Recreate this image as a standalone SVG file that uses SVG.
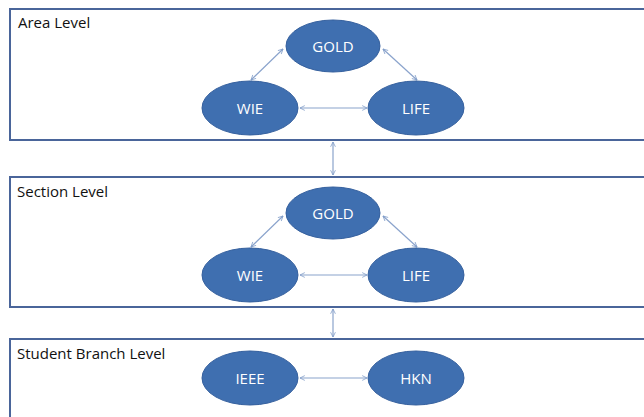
<svg xmlns="http://www.w3.org/2000/svg" width="644" height="417" viewBox="0 0 644 417">
<defs>
<marker id="ah" viewBox="0 0 10 10" refX="9" refY="5" markerWidth="6" markerHeight="6" orient="auto-start-reverse" markerUnits="userSpaceOnUse">
<path d="M1,1 L9,5 L1,9" fill="none" stroke="#7f9cc8" stroke-width="1.3"/>
</marker>
<style>
.box{fill:#ffffff;stroke:#4a659a;stroke-width:2}
.lvl{font-family:"Open Sans","Liberation Sans",sans-serif;font-size:15px;fill:#111111}
.node ellipse{fill:#3f6fb0;stroke:#35609e;stroke-width:1}
.node text{font-family:"Open Sans","Liberation Sans",sans-serif;font-size:15px;fill:#ffffff;text-anchor:middle;dominant-baseline:central}
.conn line{stroke:#8aa3cc;stroke-width:1.2;marker-start:url(#ah);marker-end:url(#ah)}
</style>
</defs>
<rect width="644" height="417" fill="#ffffff"/>
<g id="area-level">
<rect class="box" x="10" y="9" width="640" height="131"/>
<text class="lvl" x="18" y="28">Area Level</text>
</g>
<g id="section-level">
<rect class="box" x="10" y="177" width="640" height="130"/>
<text class="lvl" x="17" y="197">Section Level</text>
</g>
<g id="student-branch-level">
<rect class="box" x="10" y="339" width="640" height="90"/>
<text class="lvl" x="17" y="359">Student Branch Level</text>
</g>
<g class="conn" id="connectors">
<line x1="283" y1="49" x2="251" y2="80"/>
<line x1="383" y1="49" x2="417" y2="80"/>
<line x1="300" y1="108" x2="367" y2="108"/>
<line x1="283" y1="216" x2="251" y2="247"/>
<line x1="383" y1="216" x2="417" y2="247"/>
<line x1="300" y1="275" x2="367" y2="275"/>
<line x1="300" y1="378" x2="367" y2="378"/>
<line x1="333" y1="142" x2="333" y2="175"/>
<line x1="333" y1="309" x2="333" y2="337"/>
</g>
<g class="node" id="area-gold"><ellipse cx="333" cy="46" rx="47" ry="26"/><text x="333" y="46">GOLD</text></g>
<g class="node" id="area-wie"><ellipse cx="250" cy="108" rx="48" ry="27"/><text x="250" y="108">WIE</text></g>
<g class="node" id="area-life"><ellipse cx="416" cy="108" rx="48" ry="27"/><text x="416" y="108">LIFE</text></g>
<g class="node" id="section-gold"><ellipse cx="333" cy="213" rx="47" ry="26"/><text x="333" y="213">GOLD</text></g>
<g class="node" id="section-wie"><ellipse cx="250" cy="275" rx="48" ry="27"/><text x="250" y="275">WIE</text></g>
<g class="node" id="section-life"><ellipse cx="416" cy="275" rx="48" ry="27"/><text x="416" y="275">LIFE</text></g>
<g class="node" id="sb-ieee"><ellipse cx="250" cy="378" rx="48" ry="27"/><text x="250" y="378">IEEE</text></g>
<g class="node" id="sb-hkn"><ellipse cx="416" cy="378" rx="48" ry="27"/><text x="416" y="378">HKN</text></g>
</svg>
